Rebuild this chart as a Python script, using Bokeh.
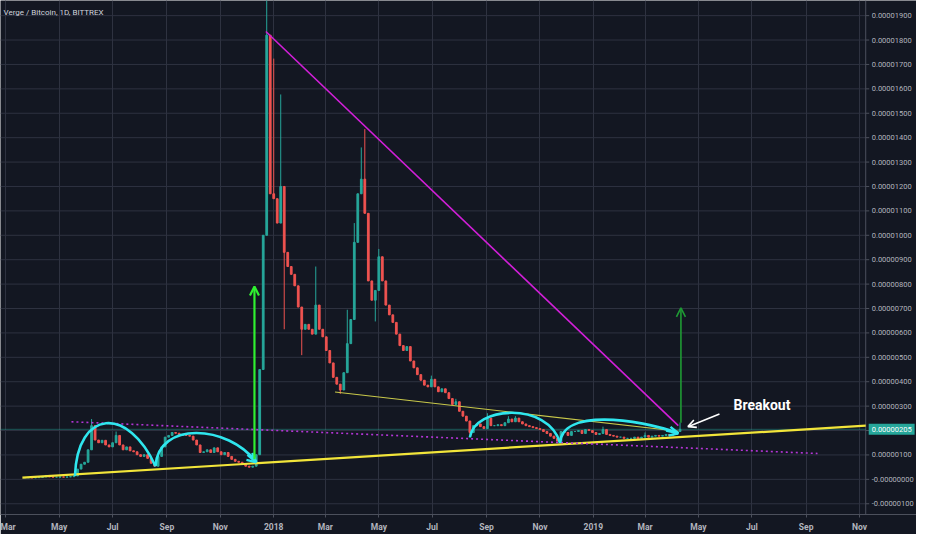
import pandas as pd
from bokeh.plotting import figure
from bokeh.models import (ColumnDataSource, FixedTicker, CustomJSTickFormatter,
                          Label, Arrow, OpenHead, Range1d)
from bokeh.embed import file_html
from bokeh.resources import INLINE
from bokeh.core.properties import value

# ---------------- data (prices in satoshi = 1e-8 BTC) ----------------
TITLE = "Verge / Bitcoin, 1D, BITTREX"
CANDLE_START = "2017-03-23"
CANDLE_FREQ = "4D"
CLOSE = [
    7, 7, 6, 7, 8, 10, 16, 10, 9, 9, 10, 9, 10, 11, 14,
    42, 62, 70, 121,
    220, 161, 150, 160, 141, 133, 150, 180, 141, 121, 133,
    117, 113, 101, 94, 101, 86, 66, 54, 94, 133,
    173, 180, 192, 189, 180, 184, 180, 177, 161, 141,
    110, 113, 121, 110, 129, 113, 101, 110, 94, 82,
    74, 70, 62, 54, 50, 54, 101, 450, 1000, 1820,
    1170, 1150, 1050, 1200, 930, 872, 840, 793, 706, 615,
    635, 615, 595, 714, 615, 584, 528, 477, 418, 390,
    366, 437, 556, 655, 971, 1170, 1230, 1090, 813, 734,
    774, 912, 813, 714, 674, 643, 595, 548, 528, 544,
    485, 457, 429, 406, 386, 379, 410, 379, 359, 371,
    355, 331, 307, 318, 279, 259, 239, 192, 220, 227,
    216, 208, 251, 220, 220, 224, 220, 232, 247, 236,
    251, 236, 227, 220, 216, 212, 208, 204, 196, 188,
    177, 168, 157, 196, 192, 180, 196, 196, 200, 188,
    204, 200, 192, 184, 188, 204, 184, 180, 177, 173,
    173, 168, 168, 168, 173, 168, 173, 180, 173, 177,
    180, 177, 180, 184, 180, 184, 196, 205,
]
HIGH_WICKS = {19: 247, 26: 196, 69: 1990, 71: 1724, 73: 1577, 83: 872, 92: 695,
              94: 1050, 96: 1360, 97: 1435, 101: 944, 116: 425, 123: 330, 132: 271,
              138: 259, 140: 259, 165: 216, 177: 192, 187: 233}
LOW_WICKS = {74: 615, 79: 509, 90: 350, 100: 647, 127: 172, 153: 149}
LAST_PRICE = 205
LAST_PRICE_TEXT = "0.00000205"

X_START = "2017-02-23"
PRICE_AXIS_AT = "2019-11-08"     # where the price scale begins
X_END = "2020-01-05"
Y_START, Y_END = -144, 1962
X_TICK_DATES = ["2017-03-01", "2017-05-01", "2017-07-01", "2017-09-01", "2017-11-01",
                "2018-01-01", "2018-03-01", "2018-05-01", "2018-07-01", "2018-09-01",
                "2018-11-01", "2019-01-01", "2019-03-01", "2019-05-01", "2019-07-01",
                "2019-09-01", "2019-11-01"]
MONTH_NAMES = ["Jan", "Feb", "Mar", "Apr", "May", "Jun", "Jul", "Aug", "Sep", "Oct", "Nov", "Dec"]
Y_TICKS = [-100, 0, 100, 200, 300, 400, 500, 600, 700, 800, 900, 1000,
           1100, 1200, 1300, 1400, 1500, 1600, 1700, 1800, 1900]

# drawings (date, value)
SUPPORT_LINE = [("2017-03-20", 7), ("2019-11-08", 220)]
DOWN_TREND = [("2017-12-23", 1835), ("2019-04-08", 220)]
THIN_TREND = [("2018-03-12", 358), ("2019-04-08", 197)]
DOTTED_LINE = [("2017-05-15", 236), ("2019-09-14", 106)]
# cubic arcs: start, control0, control1, end
ARCS = [
    [("2017-05-19", 14), ("2017-05-22", 290), ("2017-07-19", 300), ("2017-08-19", 54)],
    [("2017-08-19", 54), ("2017-08-22", 240), ("2017-11-10", 225), ("2017-12-12", 70)],
    [("2018-08-13", 172), ("2018-08-18", 300), ("2018-11-10", 320), ("2018-11-24", 149)],
    [("2018-11-24", 149), ("2018-11-26", 290), ("2019-02-20", 250), ("2019-04-08", 189)],
]
ARC_HEADS = [[("2017-12-02", 100), ("2017-12-12", 70)],
             [("2019-03-25", 200), ("2019-04-08", 189)]]
GREEN_ARROW_1 = [("2017-12-10", 82), ("2017-12-10", 790)]
GREEN_ARROW_2 = [("2019-04-11", 232), ("2019-04-11", 703)]
BREAKOUT_ARROW = [("2019-05-25", 268), ("2019-04-19", 216)]
BREAKOUT_TEXT = ("2019-06-10", 304, "Breakout")

# ---------------- styles ----------------
BG = "#131722"
GRID = "#2e3240"
AXIS = "#4c505c"
TXT = "#b2b5be"
UP = "#26a69a"
DOWN = "#ef5350"
DAY = 86400000


def ms(d):
    return pd.Timestamp(d).value / 1e6


dates = pd.date_range(CANDLE_START, periods=len(CLOSE), freq=CANDLE_FREQ)
opens = [CLOSE[0]] + CLOSE[:-1]
highs = [HIGH_WICKS.get(i, max(o, c)) for i, (o, c) in enumerate(zip(opens, CLOSE))]
lows = [LOW_WICKS.get(i, min(o, c)) for i, (o, c) in enumerate(zip(opens, CLOSE))]
colors = [UP if c >= o else DOWN for o, c in zip(opens, CLOSE)]
src = ColumnDataSource(dict(x=dates, o=opens, c=CLOSE, h=highs, l=lows,
                            top=[max(o, c) for o, c in zip(opens, CLOSE)],
                            bot=[min(o, c) for o, c in zip(opens, CLOSE)],
                            col=colors))

p = figure(width=916, height=534, x_axis_type="datetime",
           output_backend="svg", toolbar_location=None,
           x_range=Range1d(ms(X_START), ms(X_END)), y_range=Range1d(Y_START, Y_END),
           background_fill_color=BG, border_fill_color=BG,
           min_border_left=0, min_border_top=0, min_border_right=0, min_border_bottom=0)
p.outline_line_color = None
p.yaxis.visible = False
p.ygrid.visible = False

# time axis
p.xaxis.ticker = FixedTicker(ticks=[ms(d) for d in X_TICK_DATES])
p.xaxis.formatter = CustomJSTickFormatter(args=dict(names=MONTH_NAMES), code="""
    const d = new Date(tick);
    const m = d.getUTCMonth();
    return m === 0 ? String(d.getUTCFullYear()) : names[m];
""")
ax = p.xaxis[0]
ax.axis_line_color = AXIS
ax.major_tick_line_color = AXIS
ax.minor_tick_line_color = None
ax.major_tick_in = 0
ax.major_tick_out = 3
ax.major_label_text_color = TXT
ax.major_label_text_font = "Roboto"
ax.major_label_text_font_size = "8.5px"
ax.major_label_text_font_style = "bold"
ax.major_label_standoff = 4
p.xgrid.grid_line_color = GRID

# price scale (drawn at the right edge of the chart)
axis_x = ms(PRICE_AXIS_AT)
p.segment(x0=[ms(X_START)] * len(Y_TICKS), x1=[axis_x] * len(Y_TICKS),
          y0=Y_TICKS, y1=Y_TICKS, line_color=GRID, line_width=1)
p.segment(x0=[axis_x], x1=[axis_x], y0=[Y_START], y1=[Y_END], line_color=AXIS, line_width=1)
p.segment(x0=[axis_x] * len(Y_TICKS), x1=[axis_x + 4 * DAY] * len(Y_TICKS),
          y0=Y_TICKS, y1=Y_TICKS, line_color=AXIS, line_width=1)
tick_text = [("-" if t <= 0 else "") + f"{abs(t) / 1e8:.8f}" for t in Y_TICKS]
p.text(x=[axis_x] * len(Y_TICKS), y=Y_TICKS, text=tick_text, x_offset=6,
       text_font=value("Roboto"), text_font_size="7.5px", text_color=TXT,
       text_baseline="middle", text_align="left")

# last price line
p.segment(x0=[ms(X_START)], x1=[axis_x], y0=[LAST_PRICE], y1=[LAST_PRICE],
          line_color=UP, line_alpha=0.45, line_width=1)

# candles
p.segment("x", "h", "x", "l", source=src, color="col", line_width=1)
p.vbar(x="x", top="top", bottom="bot", width=2.0 * DAY, source=src,
       fill_color="col", line_color="col", line_width=1)


def seg(pts, **kw):
    p.line([ms(pts[0][0]), ms(pts[1][0])], [pts[0][1], pts[1][1]], **kw)


seg(SUPPORT_LINE, line_color="#f2e53a", line_width=2.2)
seg(THIN_TREND, line_color="#c9c94a", line_width=1.2)
seg(DOTTED_LINE, line_color="#b435d6", line_width=1.6, line_dash="2 3")
seg(DOWN_TREND, line_color="#d21fd8", line_width=1.6)

# arcs
arc_src = ColumnDataSource(dict(
    x0=[ms(a[0][0]) for a in ARCS], y0=[a[0][1] for a in ARCS],
    cx0=[ms(a[1][0]) for a in ARCS], cy0=[a[1][1] for a in ARCS],
    cx1=[ms(a[2][0]) for a in ARCS], cy1=[a[2][1] for a in ARCS],
    x1=[ms(a[3][0]) for a in ARCS], y1=[a[3][1] for a in ARCS]))
CYAN = "#2fe6ee"
p.bezier(x0="x0", y0="y0", x1="x1", y1="y1", cx0="cx0", cy0="cy0", cx1="cx1", cy1="cy1",
         source=arc_src, line_color=CYAN, line_width=2.6)
for h in ARC_HEADS:
    p.add_layout(Arrow(end=OpenHead(line_color=CYAN, line_width=2.4, size=9),
                       x_start=ms(h[0][0]), y_start=h[0][1],
                       x_end=ms(h[1][0]), y_end=h[1][1],
                       line_color=CYAN, line_width=2.4))


def arrow(pts, color, lw, size):
    p.add_layout(Arrow(end=OpenHead(line_color=color, line_width=lw, size=size),
                       x_start=ms(pts[0][0]), y_start=pts[0][1],
                       x_end=ms(pts[1][0]), y_end=pts[1][1],
                       line_color=color, line_width=lw))


arrow(GREEN_ARROW_1, "#30f030", 2.2, 9)
arrow(GREEN_ARROW_2, "#1f9a34", 1.6, 9)
arrow(BREAKOUT_ARROW, "#ffffff", 1.6, 8)

p.add_layout(Label(x=ms(BREAKOUT_TEXT[0]), y=BREAKOUT_TEXT[1], text=BREAKOUT_TEXT[2],
                   text_color="#ffffff", text_font="Roboto", text_font_size="14px",
                   text_font_style="bold", text_baseline="middle", text_align="left"))

# title
p.add_layout(Label(x=ms(X_START), y=Y_END, x_offset=3, y_offset=-7, text=TITLE,
                   text_color="#d1d4dc", text_font="Roboto", text_font_size="8px",
                   text_baseline="top", text_align="left"))

# price tag on the price scale
p.text(x=[axis_x], y=[LAST_PRICE], text=[LAST_PRICE_TEXT], x_offset=3,
       text_font=value("Roboto"), text_font_size="7.5px", text_color="#ffffff",
       text_baseline="middle", text_align="left",
       background_fill_color=UP, padding=3)

open("out.html", "w").write(file_html(p, INLINE))
